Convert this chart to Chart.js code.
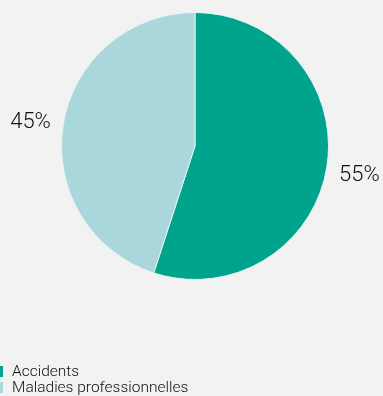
<!DOCTYPE html>
<html>
<head>
<meta charset="utf-8">
<script src="https://cdn.jsdelivr.net/npm/chart.js@4/dist/chart.umd.min.js"></script>
<style>
  html, body { margin: 0; padding: 0; background: #f2f2f2; }
  #wrap { position: relative; width: 383px; height: 396px; }
</style>
</head>
<body>
<div id="wrap"><canvas id="pieChart" width="383" height="396"></canvas></div>
<script>
// data
const categories = ['Accidents', 'Maladies professionnelles'];
const shares = [55, 45];
const sliceColors = ['#00a38b', '#aad7dc'];

const FONT = 'Roboto, "Liberation Sans", sans-serif';

// percentage labels outside each slice
const outsideLabels = {
    id: 'outsideLabels',
    afterDatasetsDraw(chart) {
        const ctx = chart.ctx;
        const meta = chart.getDatasetMeta(0);
        ctx.save();
        ctx.font = '300 22px ' + FONT;
        ctx.fillStyle = '#111';
        ctx.textAlign = 'center';
        ctx.textBaseline = 'middle';
        meta.data.forEach(function (arc, i) {
            const mid = (arc.startAngle + arc.endAngle) / 2;
            const r = arc.outerRadius + 33;
            ctx.fillText(shares[i] + '%', arc.x + Math.cos(mid) * r, arc.y + Math.sin(mid) * r + 3);
        });
        ctx.restore();
    }
};

// legend: thin coloured bars, stacked bottom-left
const stackedLegend = {
    id: 'stackedLegend',
    afterDraw(chart) {
        const ctx = chart.ctx;
        ctx.save();
        ctx.font = '300 15.5px ' + FONT;
        ctx.textBaseline = 'middle';
        ctx.textAlign = 'left';
        categories.forEach(function (label, i) {
            const y = 372 + i * 16;
            ctx.fillStyle = sliceColors[i];
            ctx.fillRect(0, y - 6, 3, 11);
            ctx.fillStyle = '#111';
            ctx.fillText(label, 12, y);
        });
        ctx.restore();
    }
};

new Chart(document.getElementById('pieChart'), {
    type: 'pie',
    data: {
        labels: categories,
        datasets: [{
            data: shares,
            backgroundColor: sliceColors,
            borderColor: '#e6f2f2',
            borderWidth: 1
        }]
    },
    options: {
        responsive: false,
        animation: false,
        layout: {
            padding: { top: 12, bottom: 116, left: 61, right: 54 }
        },
        plugins: {
            legend: { display: false },
            tooltip: { enabled: false }
        }
    },
    plugins: [outsideLabels, stackedLegend]
});
</script>
</body>
</html>
